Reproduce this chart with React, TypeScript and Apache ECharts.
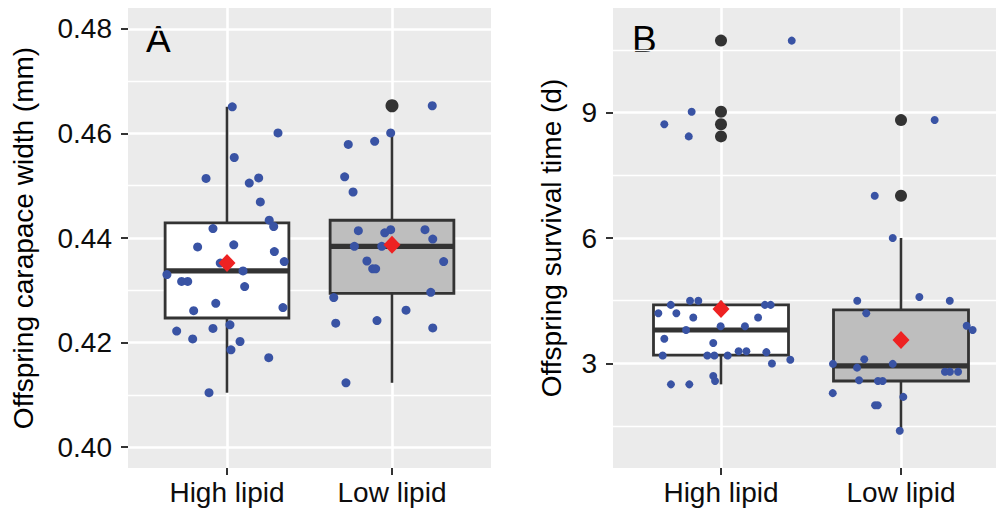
import React, { useEffect, useRef } from 'react';
import * as echarts from 'echarts';

const CATEGORIES = ['High lipid', 'Low lipid'];

// Panel A: offspring carapace width (mm)
const A_TICKS = [0.4, 0.42, 0.44, 0.46, 0.48];
const A_MINOR = [0.41, 0.43, 0.45, 0.47];
// [x, lower whisker, q1, median, q3, upper whisker]
const A_BOXES = [
  [1, 0.4104, 0.4247, 0.4337, 0.4429, 0.4651],
  [2, 0.4123, 0.4294, 0.4384, 0.4434, 0.4601],
];
const A_OUTLIERS = [[2, 0.4653]];
const A_MEANS = [[1, 0.4352], [2, 0.4387]];
// jittered observations [x, value]
const A_HIGH = [
  [1.032, 0.4651], [1.309, 0.4601], [1.044, 0.4554], [0.873, 0.4514], [1.135, 0.4505],
  [1.192, 0.4515], [1.202, 0.4469], [1.256, 0.4434], [1.283, 0.4422], [0.915, 0.4418],
  [0.822, 0.4383], [1.041, 0.4387], [1.287, 0.4374], [1.347, 0.4355], [0.959, 0.4352],
  [1.097, 0.4337], [0.636, 0.433], [0.725, 0.4317], [0.762, 0.4317], [1.107, 0.4307],
  [0.932, 0.4275], [0.798, 0.4261], [1.339, 0.4267], [0.695, 0.4222], [0.915, 0.4227],
  [1.018, 0.4234], [0.792, 0.4207], [1.079, 0.4202], [1.024, 0.4186], [1.253, 0.4171],
  [0.891, 0.4104],
];
const A_LOW = [
  [2.244, 0.4653], [1.992, 0.4601], [1.735, 0.4579], [1.895, 0.4585], [1.713, 0.4517],
  [1.764, 0.4488], [1.796, 0.4414], [1.956, 0.441], [1.992, 0.4416], [2.2, 0.4416],
  [2.247, 0.4398], [1.772, 0.4384], [1.938, 0.4384], [1.848, 0.4356], [1.883, 0.4341],
  [1.901, 0.4341], [2.313, 0.4355], [1.647, 0.4286], [2.235, 0.4296], [2.085, 0.4262],
  [1.659, 0.4237], [1.909, 0.4242], [2.247, 0.4228], [1.721, 0.4123],
];

// Panel B: offspring survival time (d)
const B_TICKS = [3, 6, 9];
const B_MINOR = [1.5, 4.5, 7.5, 10.5];
const B_BOXES = [
  [1, 2.5, 3.2, 3.8, 4.4, 4.5],
  [2, 1.39, 2.58, 2.94, 4.28, 6.0],
];
const B_OUTLIERS = [[1, 10.72], [1, 9.02], [1, 8.72], [1, 8.43], [2, 8.82], [2, 7.01]];
const B_MEANS = [[1, 4.3], [2, 3.56]];
const B_HIGH = [
  [1.393, 10.72], [0.837, 9.02], [0.685, 8.72], [0.821, 8.43], [0.721, 4.4],
  [0.828, 4.5], [0.874, 4.5], [0.652, 4.2], [0.752, 4.2], [0.846, 4.1],
  [1.244, 4.4], [1.276, 4.4], [1.206, 4.1], [0.998, 3.89], [1.133, 3.89],
  [0.806, 3.8], [0.685, 3.59], [0.957, 3.49], [0.676, 3.19], [0.924, 3.19],
  [0.963, 3.19], [1.037, 3.19], [1.098, 3.29], [1.141, 3.29], [1.252, 3.27],
  [1.283, 3.0], [1.385, 3.09], [0.722, 2.5], [0.824, 2.5], [0.957, 2.7],
  [0.967, 2.58],
];
const B_LOW = [
  [2.187, 8.82], [1.854, 7.01], [1.954, 6.0], [1.757, 4.5], [2.102, 4.59],
  [2.271, 4.5], [1.807, 4.2], [2.365, 3.9], [2.398, 3.8], [1.796, 3.1],
  [1.622, 2.99], [1.756, 2.9], [1.954, 2.99], [2.244, 2.8], [2.272, 2.8],
  [2.317, 2.8], [1.767, 2.6], [1.872, 2.58], [1.898, 2.58], [1.621, 2.29],
  [2.013, 2.2], [1.856, 2.0], [1.871, 2.0], [1.993, 1.39],
];

const FONT = '"Liberation Sans", Arial, Helvetica, sans-serif';
const BOX_FILLS = ['#FFFFFF', '#BEBEBE'];
const DARK = '#333333';
const POINT_BLUE = '#3953A4';
const MEAN_RED = '#EE2222';

const tickText = { color: '#0D0D0D', fontSize: 28, fontFamily: FONT };

function xAxisFor(gridIndex: number) {
  return {
    type: 'value',
    gridIndex,
    min: 0.4,
    max: 2.6,
    axisLine: { show: false },
    axisTick: { show: true, length: 7, lineStyle: { color: DARK, width: 2 }, customValues: [1, 2] },
    axisLabel: {
      ...tickText,
      margin: 10,
      customValues: [1, 2],
      formatter: (v: number) => CATEGORIES[Math.round(v) - 1] ?? '',
    },
    splitLine: { show: true, lineStyle: { color: '#FFFFFF', width: 2.6 } },
  };
}

function yAxesFor(gridIndex: number, min: number, max: number, ticks: number[], minor: number[],
  name: string, nameGap: number, fmt: (v: number) => string) {
  return [
    {
      type: 'value',
      gridIndex,
      min,
      max,
      position: 'left',
      axisLine: { show: false },
      axisTick: { show: true, length: 7, lineStyle: { color: DARK, width: 2 }, customValues: ticks },
      axisLabel: { ...tickText, margin: 16, customValues: ticks, formatter: fmt },
      splitLine: { show: true, lineStyle: { color: '#FFFFFF', width: 2.6 } },
      name,
      nameLocation: 'middle',
      nameRotate: 90,
      nameGap,
      nameTextStyle: { color: '#000000', fontSize: 28, fontFamily: FONT },
    },
    {
      type: 'value',
      gridIndex,
      min,
      max,
      position: 'right',
      axisLine: { show: false },
      axisTick: { show: false, customValues: minor },
      axisLabel: { show: false, customValues: minor },
      splitLine: { show: true, lineStyle: { color: '#FFFFFF', width: 1.3 } },
    },
  ];
}

function boxSeries(xAxisIndex: number, yAxisIndex: number, data: number[][]) {
  return {
    type: 'custom',
    xAxisIndex,
    yAxisIndex,
    z: 2,
    encode: { x: 0, y: [1, 2, 3, 4, 5] },
    data,
    renderItem: (params: any, api: any) => {
      const x = api.value(0);
      const pLo = api.coord([x, api.value(1)]);
      const pQ1 = api.coord([x, api.value(2)]);
      const pMed = api.coord([x, api.value(3)]);
      const pQ3 = api.coord([x, api.value(4)]);
      const pHi = api.coord([x, api.value(5)]);
      const half = api.size([0.75, 0])[0] / 2;
      const lineStyle = { stroke: DARK, lineWidth: 2.6 };
      return {
        type: 'group',
        children: [
          { type: 'line', shape: { x1: pHi[0], y1: pHi[1], x2: pQ3[0], y2: pQ3[1] }, style: lineStyle },
          { type: 'line', shape: { x1: pQ1[0], y1: pQ1[1], x2: pLo[0], y2: pLo[1] }, style: lineStyle },
          {
            type: 'rect',
            shape: { x: pQ3[0] - half, y: pQ3[1], width: half * 2, height: pQ1[1] - pQ3[1] },
            style: { fill: BOX_FILLS[params.dataIndex], stroke: DARK, lineWidth: 2.8 },
          },
          {
            type: 'line',
            shape: { x1: pMed[0] - half, y1: pMed[1], x2: pMed[0] + half, y2: pMed[1] },
            style: { stroke: DARK, lineWidth: 5.2 },
          },
        ],
      };
    },
  };
}

function scatter(xAxisIndex: number, yAxisIndex: number, data: number[][], color: string,
  size: number | number[], symbol: string, z: number) {
  return {
    type: 'scatter',
    xAxisIndex,
    yAxisIndex,
    data,
    symbol,
    symbolSize: size,
    z,
    itemStyle: { color, opacity: 1 },
    emphasis: { disabled: true },
  };
}

export default function App() {
  const ref = useRef<HTMLDivElement>(null);
  useEffect(() => {
    if (!ref.current) return;
    const chart = echarts.init(ref.current, undefined, { renderer: 'svg' });
    const option: any = {
      animation: false,
      backgroundColor: '#FFFFFF',
      grid: [
        { left: 128, top: 8, width: 363, height: 460, show: true, backgroundColor: '#EBEBEB', borderWidth: 0, outerBoundsMode: 'none' },
        { left: 613, top: 8, width: 396, height: 460, show: true, backgroundColor: '#EBEBEB', borderWidth: 0, outerBoundsMode: 'none' },
      ],
      xAxis: [xAxisFor(0), xAxisFor(1)],
      yAxis: [
        ...yAxesFor(0, 0.396, 0.484, A_TICKS, A_MINOR, 'Offspring carapace width (mm)', 91, (v) => v.toFixed(2)),
        ...yAxesFor(1, 0.5, 11.5, B_TICKS, B_MINOR, 'Offspring survival time (d)', 48, (v) => String(Math.round(v))),
      ],
      graphic: [
        { type: 'text', x: 146, y: 21, style: { text: 'A', fontSize: 37, fontFamily: FONT, fill: '#000000' } },
        { type: 'text', x: 632, y: 21, style: { text: 'B', fontSize: 37, fontFamily: FONT, fill: '#000000' } },
      ],
      series: [
        boxSeries(0, 0, A_BOXES),
        scatter(0, 0, A_OUTLIERS, DARK, 13, 'circle', 3),
        scatter(0, 0, A_HIGH, POINT_BLUE, 9, 'circle', 4),
        scatter(0, 0, A_LOW, POINT_BLUE, 9, 'circle', 4),
        scatter(0, 0, A_MEANS, MEAN_RED, [17, 18], 'diamond', 5),
        boxSeries(1, 2, B_BOXES),
        scatter(1, 2, B_OUTLIERS, DARK, 12, 'circle', 3),
        scatter(1, 2, B_HIGH, POINT_BLUE, 8, 'circle', 4),
        scatter(1, 2, B_LOW, POINT_BLUE, 8, 'circle', 4),
        scatter(1, 2, B_MEANS, MEAN_RED, [17, 18], 'diamond', 5),
      ],
    };
    chart.setOption(option);
    return () => chart.dispose();
  }, []);
  return (
    <div
      ref={ref}
      style={{ position: 'absolute', left: 0, top: 0, width: 996, height: 512 }}
    />
  );
}
